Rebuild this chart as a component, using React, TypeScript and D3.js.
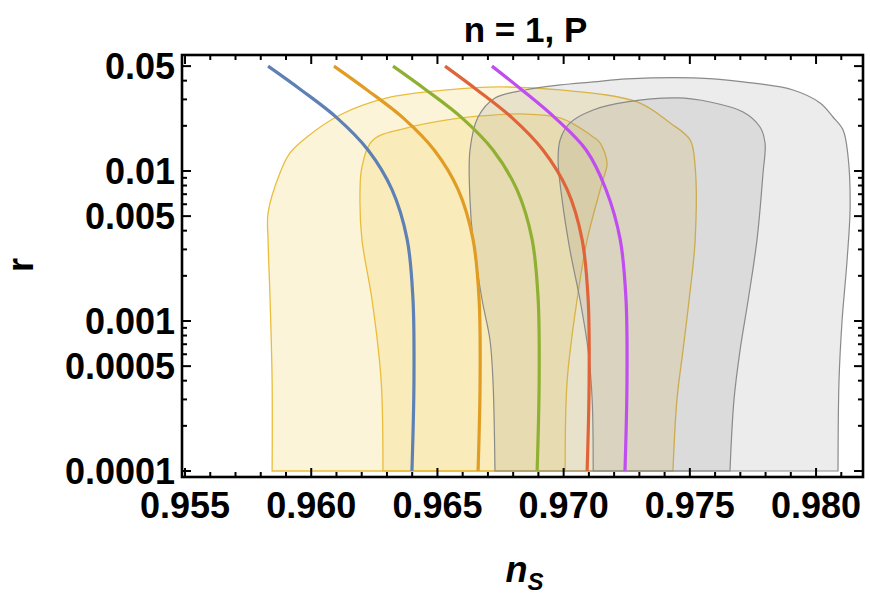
import React from "react";
import * as d3 from "d3";

const W = 870;
const H = 594;

const xDomain = [0.95488, 0.98186];
const yDomain = [9.12e-5, 0.0593];

const xTickValues = [0.955, 0.96, 0.965, 0.97, 0.975, 0.98];
const xTickLabels = ["0.955", "0.960", "0.965", "0.970", "0.975", "0.980"];
const yTickValues = [0.05, 0.01, 0.005, 0.001, 0.0005, 0.0001];
const yTickLabels = ["0.05", "0.01", "0.005", "0.001", "0.0005", "0.0001"];

const titleText = "n = 1, P";

// line series (ns values at shared r values)
const lineR = [0.05, 0.0347, 0.0226, 0.0138, 0.0075, 0.0035, 0.0014, 0.0004, 0.0001];
const blueNs = [0.95829, 0.9596, 0.96102, 0.96225, 0.9632, 0.9638, 0.96403, 0.96407, 0.96399];
const orangeNs = [0.9609, 0.96221, 0.96364, 0.96487, 0.96582, 0.96641, 0.96665, 0.96669, 0.96661];
const greenNs = [0.96324, 0.96455, 0.96597, 0.9672, 0.96815, 0.96875, 0.96899, 0.96903, 0.96895];
const redNs = [0.9653, 0.96657, 0.96796, 0.96918, 0.97014, 0.97073, 0.97097, 0.97101, 0.97093];
const purpleNs = [0.96716, 0.96835, 0.96966, 0.97089, 0.97168, 0.97224, 0.97247, 0.97251, 0.97243];

const lineColors = ["#5E81B5", "#E19C24", "#8FB032", "#E0643A", "#BF4DF0"];

// contour regions
const yellowOuterNs = [0.95845, 0.95845, 0.95837, 0.95829, 0.95829, 0.95876, 0.95916, 0.95983, 0.96114, 0.963, 0.96538, 0.96748, 0.96986, 0.97291, 0.97422, 0.97501, 0.97521, 0.97521, 0.97497, 0.97473, 0.97449, 0.97433];
const yellowOuterR = [0.0001, 0.0004, 0.00138, 0.00347, 0.00525, 0.0097, 0.0132, 0.01686, 0.02362, 0.03067, 0.03467, 0.03631, 0.03467, 0.02884, 0.0209, 0.0161, 0.01063, 0.00347, 0.00138, 0.00064, 0.0003, 0.0001];

const yellowInnerNs = [0.96284, 0.96277, 0.96241, 0.96201, 0.96193, 0.96201, 0.96245, 0.9638, 0.96538, 0.96669, 0.96827, 0.96986, 0.97117, 0.97144, 0.97172, 0.97152, 0.97093, 0.97053, 0.97014, 0.97006];
const yellowInnerR = [0.0001, 0.0004, 0.00138, 0.00347, 0.00641, 0.01063, 0.0161, 0.01935, 0.02188, 0.02326, 0.02399, 0.02256, 0.01686, 0.01537, 0.0113, 0.00832, 0.00347, 0.00138, 0.0004, 0.0001];

const grayOuterNs = [0.96728, 0.9672, 0.96708, 0.96677, 0.96641, 0.96629, 0.96629, 0.96661, 0.96728, 0.96847, 0.96986, 0.97117, 0.97251, 0.97513, 0.97711, 0.97909, 0.98016, 0.98067, 0.98107, 0.98127, 0.98135, 0.98123, 0.98103, 0.98091, 0.98087];
const grayOuterR = [0.0001, 0.0004, 0.00075, 0.00138, 0.00347, 0.00641, 0.0138, 0.0229, 0.03067, 0.03467, 0.03744, 0.0392, 0.04106, 0.04169, 0.0392, 0.03467, 0.0284, 0.0229, 0.01876, 0.0124, 0.00575, 0.00255, 0.001, 0.0004, 0.0001];

const grayInnerNs = [0.97117, 0.97113, 0.97097, 0.97065, 0.97025, 0.96994, 0.96978, 0.96986, 0.97025, 0.97117, 0.97251, 0.97449, 0.9758, 0.97711, 0.97778, 0.97798, 0.9779, 0.97766, 0.97731, 0.97699, 0.97675, 0.97659];
const grayInnerR = [0.0001, 0.0003, 0.00064, 0.00138, 0.00297, 0.00641, 0.01184, 0.0161, 0.0209, 0.02551, 0.02884, 0.03067, 0.02884, 0.02473, 0.01965, 0.01537, 0.0097, 0.00347, 0.00138, 0.00064, 0.0003, 0.0001];

const FONT = "'Liberation Sans', Arial, sans-serif";

export default function App() {
  const left = 182, right = 863, top = 55, bottom = 477;
  const x = d3.scaleLinear().domain(xDomain).range([left, right]);
  const y = d3.scaleLog().domain(yDomain).range([bottom, top]);

  const lineGen = d3
    .line<[number, number]>()
    .x((d) => x(d[0]))
    .y((d) => y(d[1]))
    .curve(d3.curveCatmullRom.alpha(0.5));

  const zip = (a: number[], b: number[]) => a.map((v, i) => [v, b[i]] as [number, number]);
  const regionPath = (ns: number[], r: number[]) => lineGen(zip(ns, r)) + "Z";

  const lines = [blueNs, orangeNs, greenNs, redNs, purpleNs];

  const xMinor = d3.range(955, 982).map((v) => v / 1000).filter((v) => !xTickValues.some((m) => Math.abs(m - v) < 1e-9));
  const yMinor: number[] = [];
  for (let k = -5; k <= -2; k++) {
    for (let m = 1; m <= 9; m++) {
      const v = m * Math.pow(10, k);
      if (v >= yDomain[0] && v <= yDomain[1] && !yTickValues.some((t) => Math.abs(t - v) / t < 1e-6)) yMinor.push(v);
    }
  }
  const maj = 9, mnr = 5;

  const yellowFill = "#F0C640";
  const yellowStroke = "#E9BD3B";
  const grayFill = "#7f7f7f";
  const grayStroke = "#8a8a8a";

  return (
    <svg width={W} height={H} style={{ position: "absolute", left: 0, top: 0, background: "#fff" }} fontFamily={FONT}>
      <defs>
        <clipPath id="plotclip">
          <rect x={left} y={top} width={right - left} height={bottom - top} />
        </clipPath>
      </defs>
      <g clipPath="url(#plotclip)">
        <path d={regionPath(yellowOuterNs, yellowOuterR)} fill={yellowFill} fillOpacity={0.2} stroke={yellowStroke} strokeWidth={1.3} />
        <path d={regionPath(yellowInnerNs, yellowInnerR)} fill={yellowFill} fillOpacity={0.2} stroke={yellowStroke} strokeWidth={1.3} />
        <path d={regionPath(grayOuterNs, grayOuterR)} fill={grayFill} fillOpacity={0.15} stroke={grayStroke} strokeWidth={1.2} />
        <path d={regionPath(grayInnerNs, grayInnerR)} fill={grayFill} fillOpacity={0.15} stroke={grayStroke} strokeWidth={1.2} />
        {lines.map((ns, i) => (
          <path key={i} d={lineGen(zip(ns, lineR)) || ""} fill="none" stroke={lineColors[i]} strokeWidth={3.2} strokeLinecap="butt" />
        ))}
      </g>
      <g stroke="#000" strokeWidth={2}>
        {xTickValues.map((v, i) => (
          <g key={"xm" + i}>
            <line x1={x(v)} x2={x(v)} y1={bottom} y2={bottom - maj} />
            <line x1={x(v)} x2={x(v)} y1={top} y2={top + maj} />
          </g>
        ))}
        {xMinor.map((v, i) => (
          <g key={"xn" + i}>
            <line x1={x(v)} x2={x(v)} y1={bottom} y2={bottom - mnr} />
            <line x1={x(v)} x2={x(v)} y1={top} y2={top + mnr} />
          </g>
        ))}
        {yTickValues.map((v, i) => (
          <g key={"ym" + i}>
            <line x1={left} x2={left + maj} y1={y(v)} y2={y(v)} />
            <line x1={right} x2={right - maj} y1={y(v)} y2={y(v)} />
          </g>
        ))}
        {yMinor.map((v, i) => (
          <g key={"yn" + i}>
            <line x1={left} x2={left + mnr} y1={y(v)} y2={y(v)} />
            <line x1={right} x2={right - mnr} y1={y(v)} y2={y(v)} />
          </g>
        ))}
      </g>
      <rect x={left} y={top} width={right - left} height={bottom - top} fill="none" stroke="#000" strokeWidth={2.6} />
      <g fontWeight="bold" fontSize={36} fill="#000">
        {xTickValues.map((v, i) => (
          <text key={"xl" + i} x={x(v)} y={518} textAnchor="middle">
            {xTickLabels[i]}
          </text>
        ))}
        {yTickValues.map((v, i) => (
          <text key={"yl" + i} x={175} y={y(v) + 13} textAnchor="end">
            {yTickLabels[i]}
          </text>
        ))}
      </g>
      <text x={(left + right) / 2 + 3} y={42} textAnchor="middle" fontWeight="bold" fontSize={35}>
        {titleText}
      </text>
      <text transform={`translate(33,265) rotate(-90)`} textAnchor="middle" fontWeight="bold" fontSize={36}>
        r
      </text>
      <text x={(left + right) / 2 - 17} y={582} fontWeight="bold" fontStyle="italic" fontSize={36}>
        n
        <tspan fontSize={24} dy={8}>S</tspan>
      </text>
    </svg>
  );
}
